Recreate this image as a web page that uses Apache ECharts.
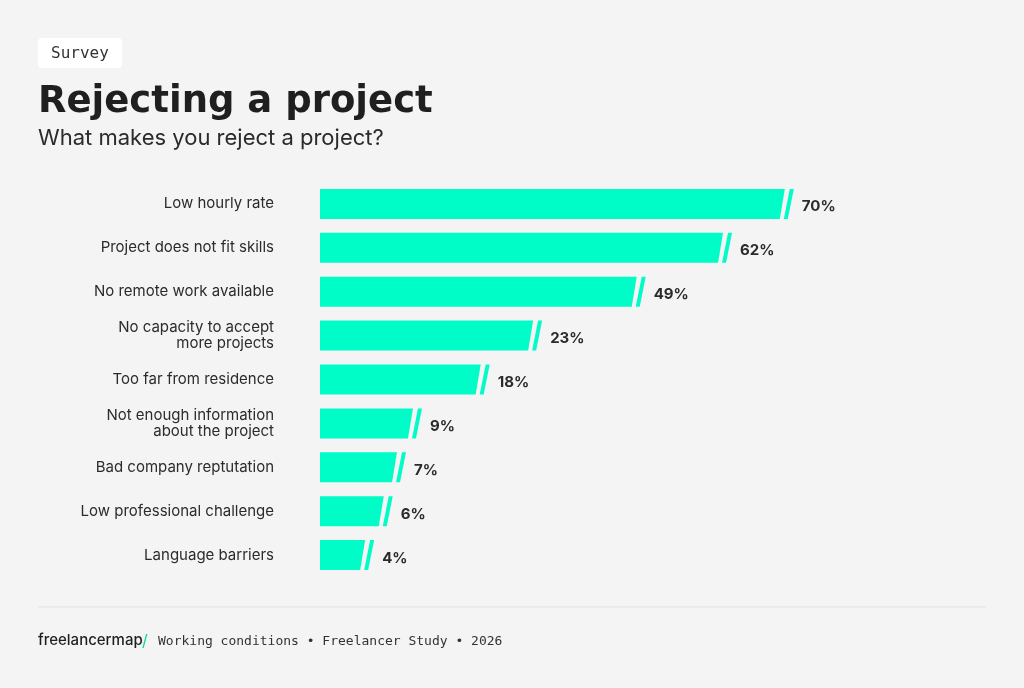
<!DOCTYPE html>
<html>
<head>
<meta charset="utf-8">
<title>Rejecting a project</title>
<script src="https://cdn.jsdelivr.net/npm/echarts@6/dist/echarts.min.js"></script>
<style>
  html, body { margin: 0; padding: 0; background: #f4f4f4; }
  #chart { width: 1024px; height: 688px; }
</style>
</head>
<body>
<div id="chart"></div>
<script>
const categories = [
  'Low hourly rate',
  'Project does not fit skills',
  'No remote work available',
  'No capacity to accept\nmore projects',
  'Too far from residence',
  'Not enough information\nabout the project',
  'Bad company reptutation',
  'Low professional challenge',
  'Language barriers'
];
// share of respondents (%), as printed next to each bar
const shares = [70, 62, 49, 23, 18, 9, 7, 6, 4];
// the original does not draw bars to scale, these are the drawn lengths
const barLengths = [70, 60.7, 47.7, 32.1, 24.2, 14.0, 11.6, 9.6, 6.8];

const teal = '#00fdc8';
const ink = '#2b2b2b';

const chart = echarts.init(document.getElementById('chart'));

function renderBar(params, api) {
  const idx = api.value(1);
  const start = api.coord([0, idx]);
  const end = api.coord([api.value(0), idx]);
  const h = 30, half = h / 2, slant = 5;
  const x0 = start[0], x1 = end[0], y = start[1];
  return {
    type: 'group',
    children: [
      {
        type: 'polygon',
        shape: { points: [[x0, y - half], [x1, y - half], [x1 - slant, y + half], [x0, y + half]] },
        style: { fill: teal }
      },
      {
        type: 'polygon',
        shape: { points: [[x1 + 5, y - half], [x1 + 9, y - half], [x1 + 3, y + half], [x1 - 1, y + half]] },
        style: { fill: teal }
      },
      {
        type: 'text',
        x: x1 + 17,
        y: y + 3,
        style: {
          text: api.value(2) + '%',
          fill: ink,
          font: 'bold 15px Inter',
          verticalAlign: 'middle',
          align: 'left'
        }
      }
    ]
  };
}

const option = {
  backgroundColor: '#f4f4f4',
  animation: false,
  grid: { left: 320, right: 40, top: 182, bottom: 111 },
  xAxis: { type: 'value', min: 0, max: 100, show: false },
  yAxis: {
    type: 'category',
    data: categories,
    inverse: true,
    axisLine: { show: false },
    axisTick: { show: false },
    axisLabel: {
      margin: 46,
      color: ink,
      fontFamily: 'Inter',
      fontSize: 15,
      lineHeight: 16,
      align: 'right'
    }
  },
  series: [{
    type: 'custom',
    renderItem: renderBar,
    encode: { x: 0, y: 1 },
    data: barLengths.map((len, i) => [len, i, shares[i]])
  }],
  graphic: [
    {
      type: 'rect', left: 38, top: 38,
      shape: { width: 84, height: 30, r: 4 },
      style: { fill: '#ffffff' }
    },
    {
      type: 'text', left: 51, top: 46,
      style: { text: 'Survey', font: '16px "DejaVu Sans Mono"', fill: '#333' }
    },
    {
      type: 'text', left: 38, top: 84,
      style: { text: 'Rejecting a project', font: 'bold 37px "DejaVu Sans"', fill: '#1f1f1f' }
    },
    {
      type: 'text', left: 38, top: 127,
      style: { text: 'What makes you reject a project?', font: '22px Inter', fill: '#2b2b2b' }
    },
    {
      type: 'line',
      shape: { x1: 38, y1: 607, x2: 986, y2: 607 },
      style: { stroke: '#e1e1e1', lineWidth: 1 }
    },
    {
      type: 'text', left: 38, top: 633,
      style: { text: 'freelancermap', font: '500 15px Inter', fill: '#1f1f1f' }
    },
    {
      type: 'text', left: 142, top: 633,
      style: { text: '/', font: '16px Inter', fill: '#00d9ab' }
    },
    {
      type: 'text', left: 158, top: 635,
      style: { text: 'Working conditions \u2022 Freelancer Study \u2022 2026', font: '13px "DejaVu Sans Mono"', fill: '#333' }
    }
  ]
};

chart.setOption(option);
</script>
</body>
</html>
